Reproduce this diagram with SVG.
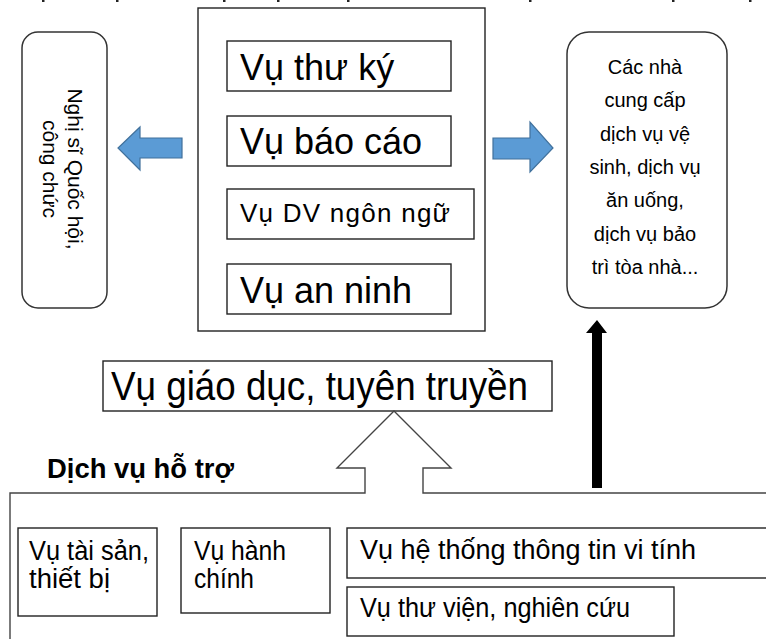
<svg xmlns="http://www.w3.org/2000/svg" width="766" height="639" viewBox="0 0 766 639">
  <style>
    text { font-family: "Liberation Sans", Arial, sans-serif; fill: #000; }
    .box { fill: #fff; stroke: #222; stroke-width: 1.4; }
    .round { fill: #fff; stroke: #333; stroke-width: 1.5; }
    .blue { fill: #5B9BD5; stroke: #41719C; stroke-width: 1.2; }
    .outline { fill: none; stroke: #444; stroke-width: 1.4; }
    .narrow { font-size: 27px; }
  </style>
  <rect width="766" height="639" fill="#fff"/>

  <!-- remnants of the heading line above -->
  <g id="heading-remnant" fill="#222">
    <rect x="42" y="0" width="2.5" height="2"/>
    <rect x="116" y="0" width="2.5" height="2"/>
    <rect x="223" y="0" width="2.5" height="2"/>
    <rect x="277" y="0" width="2.5" height="2"/>
    <rect x="347" y="0" width="2.5" height="2"/>
    <rect x="529" y="0" width="2.5" height="2"/>
    <rect x="672" y="0" width="2.5" height="2"/>
    <rect x="749" y="0" width="2.5" height="2"/>
  </g>

  <!-- left: members and officials -->
  <g id="node-members">
    <rect class="round" x="22" y="32" width="85" height="276" rx="16"/>
    <g transform="translate(68,169) rotate(90)" font-size="21" text-anchor="middle">
      <text x="0" y="0">Nghị sĩ Quốc hội,</text>
      <text x="0" y="25">công chức</text>
    </g>
  </g>

  <!-- centre: core services -->
  <g id="node-core">
    <rect class="box" x="198" y="8" width="287" height="323"/>
  </g>
  <g id="node-secretariat">
    <rect class="box" x="227" y="41" width="224" height="50"/>
    <text x="240" y="80" font-size="36">Vụ thư ký</text>
  </g>
  <g id="node-reporting">
    <rect class="box" x="227" y="116" width="224" height="50"/>
    <text x="240" y="154" font-size="36">Vụ báo cáo</text>
  </g>
  <g id="node-language">
    <rect class="box" x="227" y="189" width="247" height="50"/>
    <text x="240" y="222" font-size="26" textLength="210" lengthAdjust="spacing">Vụ DV ngôn ngữ</text>
  </g>
  <g id="node-security">
    <rect class="box" x="227" y="264" width="224" height="50"/>
    <text x="240" y="303" font-size="36">Vụ an ninh</text>
  </g>

  <!-- right: contracted providers -->
  <g id="node-providers">
    <rect class="round" x="567" y="32" width="160" height="276" rx="22"/>
    <g font-size="20" text-anchor="middle">
      <text x="645" y="74">Các nhà</text>
      <text x="645" y="107">cung cấp</text>
      <text x="645" y="141">dịch vụ vệ</text>
      <text x="645" y="174">sinh, dịch vụ</text>
      <text x="645" y="207">ăn uống,</text>
      <text x="645" y="241">dịch vụ bảo</text>
      <text x="645" y="274">trì tòa nhà...</text>
    </g>
  </g>

  <!-- education and outreach -->
  <g id="node-education">
    <rect class="box" x="103" y="361" width="449" height="50"/>
    <text x="111" y="400" font-size="41" textLength="417" lengthAdjust="spacingAndGlyphs">Vụ giáo dục, tuyên truyền</text>
  </g>

  <!-- support services container -->
  <g id="node-support">
    <path class="outline" d="M10 640 V493 H365 V468 H337 L394 411 L451 468 H423 V493 H767"/>
    <text x="47" y="478" font-size="27" font-weight="bold" textLength="187" lengthAdjust="spacingAndGlyphs">Dịch vụ hỗ trợ</text>
  </g>
  <g id="node-assets">
    <rect class="box" x="18" y="528" width="139" height="88"/>
    <text class="narrow" x="29" y="560" textLength="120" lengthAdjust="spacingAndGlyphs">Vụ tài sản,</text>
    <text class="narrow" x="29" y="588" textLength="81" lengthAdjust="spacingAndGlyphs">thiết bị</text>
  </g>
  <g id="node-admin">
    <rect class="box" x="181" y="528" width="149" height="85"/>
    <text class="narrow" x="194" y="560" textLength="92" lengthAdjust="spacingAndGlyphs">Vụ hành</text>
    <text class="narrow" x="194" y="588" textLength="60" lengthAdjust="spacingAndGlyphs">chính</text>
  </g>
  <g id="node-it">
    <rect class="box" x="347" y="528" width="430" height="50"/>
    <text class="narrow" x="360" y="559" textLength="336" lengthAdjust="spacingAndGlyphs">Vụ hệ thống thông tin vi tính</text>
  </g>
  <g id="node-library">
    <rect class="box" x="347" y="587" width="327" height="49"/>
    <text class="narrow" x="360" y="617" textLength="270" lengthAdjust="spacingAndGlyphs">Vụ thư viện, nghiên cứu</text>
  </g>

  <!-- connectors -->
  <g id="connectors">
    <polygon class="blue" points="182,138 140,138 140,127 118,148 140,170 140,158 182,158"/>
    <polygon class="blue" points="493,138 530,138 530,122 553,148 530,172 530,159 493,159"/>
    <path d="M592 488 V333 H586 L597 320 L607 333 H602 V488 Z" fill="#000"/>
  </g>
</svg>
